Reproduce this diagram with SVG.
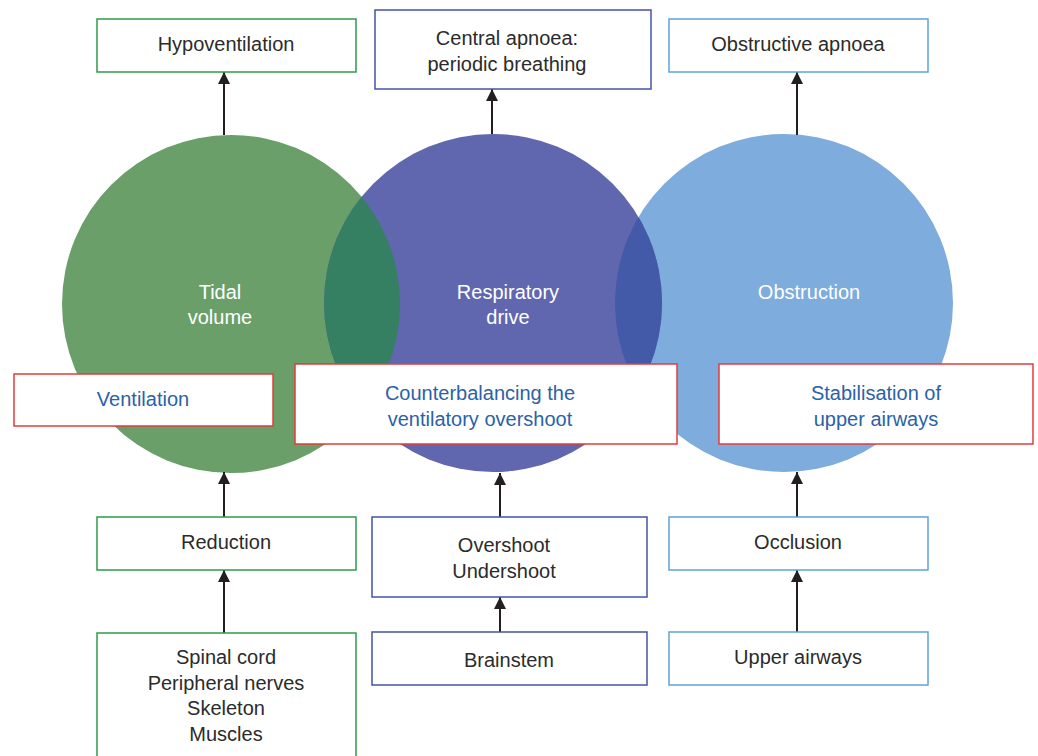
<svg xmlns="http://www.w3.org/2000/svg" width="1038" height="756" viewBox="0 0 1038 756">
<defs>
<style>
.t{font-family:"Liberation Sans",Arial,sans-serif;font-size:20px;fill:#2b2b2b;text-anchor:middle}
.w{fill:#ffffff}
.b{fill:#2a62a8}
.box{fill:#ffffff;stroke-width:1.5}
.g{stroke:#2e9a4a}
.p{stroke:#4652a8}
.l{stroke:#5ca3de}
.r{stroke:#e03c3c}
.c{stroke:#231f20;stroke-width:2;fill:none;marker-end:url(#ah)}
</style>
<marker id="ah" viewBox="0 0 12 12" refX="12" refY="6" markerWidth="12" markerHeight="12" markerUnits="userSpaceOnUse" orient="auto">
<path d="M0,0 L12,6 L0,12 Z" fill="#231f20"/>
</marker>
<clipPath id="cg"><circle cx="231" cy="304" r="169"/></clipPath>
<clipPath id="cb"><circle cx="784" cy="303" r="169"/></clipPath>
</defs>
<g id="circles">
<circle cx="231" cy="304" r="169" fill="#6a9f6a"/>
<circle cx="784" cy="303" r="169" fill="#7eacdc"/>
<circle cx="493" cy="303" r="169" fill="#6167ae"/>
<circle cx="493" cy="303" r="169" fill="#357f63" clip-path="url(#cg)"/>
<circle cx="493" cy="303" r="169" fill="#425aa8" clip-path="url(#cb)"/>
<text class="t w" x="220" y="299">Tidal</text>
<text class="t w" x="220" y="324">volume</text>
<text class="t w" x="508" y="299">Respiratory</text>
<text class="t w" x="508" y="324">drive</text>
<text class="t w" x="809" y="299">Obstruction</text>
</g>
<g id="connectors">
<line class="c" x1="224" y1="135" x2="224" y2="72"/>
<line class="c" x1="492" y1="134" x2="492" y2="89"/>
<line class="c" x1="797" y1="135" x2="797" y2="72"/>
<line class="c" x1="224" y1="517" x2="224" y2="472"/>
<line class="c" x1="500" y1="517" x2="500" y2="473"/>
<line class="c" x1="797" y1="517" x2="797" y2="472"/>
<line class="c" x1="224" y1="633" x2="224" y2="570"/>
<line class="c" x1="500" y1="632" x2="500" y2="597"/>
<line class="c" x1="797" y1="632" x2="797" y2="570"/>
</g>
<g id="hypoventilation"><rect class="box g" x="97" y="19" width="259" height="53"/><text class="t" x="226" y="51">Hypoventilation</text></g>
<g id="central-apnoea"><rect class="box p" x="375" y="10" width="276" height="79"/><text class="t" x="507" y="45">Central apnoea:</text><text class="t" x="507" y="71">periodic breathing</text></g>
<g id="obstructive-apnoea"><rect class="box l" x="669" y="19" width="259" height="53"/><text class="t" x="798" y="51">Obstructive apnoea</text></g>
<g id="ventilation"><rect class="box r" x="14" y="374" width="259" height="52"/><text class="t b" x="143" y="406">Ventilation</text></g>
<g id="counterbalancing"><rect class="box r" x="295" y="364" width="382" height="80"/><text class="t b" x="480" y="400">Counterbalancing the</text><text class="t b" x="480" y="426">ventilatory overshoot</text></g>
<g id="stabilisation"><rect class="box r" x="719" y="364" width="314" height="80"/><text class="t b" x="876" y="400">Stabilisation of</text><text class="t b" x="876" y="426">upper airways</text></g>
<g id="reduction"><rect class="box g" x="97" y="517" width="259" height="53"/><text class="t" x="226" y="549">Reduction</text></g>
<g id="overshoot"><rect class="box p" x="372" y="517" width="275" height="80"/><text class="t" x="504" y="552">Overshoot</text><text class="t" x="504" y="578">Undershoot</text></g>
<g id="occlusion"><rect class="box l" x="669" y="517" width="259" height="53"/><text class="t" x="798" y="549">Occlusion</text></g>
<g id="spinal"><rect class="box g" x="97" y="633" width="259" height="130"/><text class="t" x="226" y="664">Spinal cord</text><text class="t" x="226" y="690">Peripheral nerves</text><text class="t" x="226" y="715">Skeleton</text><text class="t" x="226" y="741">Muscles</text></g>
<g id="brainstem"><rect class="box p" x="372" y="632" width="275" height="53"/><text class="t" x="509" y="667">Brainstem</text></g>
<g id="upper-airways"><rect class="box l" x="669" y="632" width="259" height="53"/><text class="t" x="798" y="664">Upper airways</text></g>
</svg>
